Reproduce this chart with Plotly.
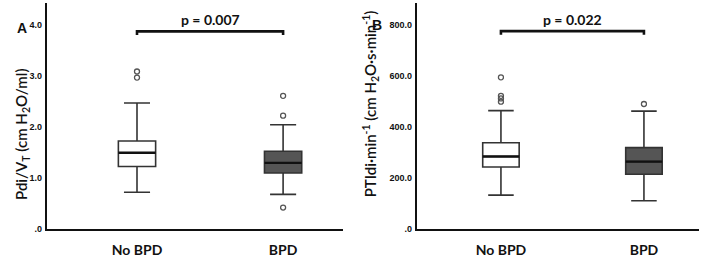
import plotly.graph_objects as go

groups = ["No BPD", "BPD"]

# Panel A: Pdi/VT
a_low = [0.71, 0.67]
a_q1 = [1.22, 1.09]
a_med = [1.49, 1.29]
a_q3 = [1.72, 1.52]
a_high = [2.47, 2.04]
a_out = [[3.09, 2.97], [2.61, 2.22, 0.41]]
a_bracket = 3.88
a_p = "p = 0.007"
a_ticks = [0, 1, 2, 3, 4]
a_ticktext = [".0", "1.0", "2.0", "3.0", "4.0"]

# Panel B: PTIdi·min-1
b_low = [131, 109]
b_q1 = [242, 213]
b_med = [283, 263]
b_q3 = [337, 318]
b_high = [464, 462]
b_out = [[595, 522, 512, 499], [490]]
b_bracket = 777
b_p = "p = 0.022"
b_ticks = [0, 200, 400, 600, 800]
b_ticktext = [".0", "200.0", "400.0", "600.0", "800.0"]

fills = ["#ffffff", "#555555"]
FONT = "Lato"

fig = go.Figure()

panels = [
    dict(low=a_low, q1=a_q1, med=a_med, q3=a_q3, high=a_high, out=a_out,
         br=a_bracket, p=a_p, tv=a_ticks, tt=a_ticktext, scale=1.0,
         xa="x", ya="y", xr=[-0.616, 1.41]),
    dict(low=b_low, q1=b_q1, med=b_med, q3=b_q3, high=b_high, out=b_out,
         br=b_bracket, p=b_p, tv=b_ticks, tt=b_ticktext, scale=200.0,
         xa="x2", ya="y2", xr=[-0.587, 1.385]),
]

bw = 0.255
for pn in panels:
    for i, g in enumerate(groups):
        fig.add_trace(go.Box(
            x=[i], q1=[pn["q1"][i]], median=[pn["med"][i]], q3=[pn["q3"][i]],
            lowerfence=[pn["low"][i]], upperfence=[pn["high"][i]],
            width=bw, whiskerwidth=0.7, fillcolor=fills[i],
            line=dict(color="#333333", width=1.6), boxpoints=False,
            xaxis=pn["xa"], yaxis=pn["ya"], showlegend=False, hoverinfo="skip"))
        # thicker median line
        fig.add_trace(go.Scatter(
            x=[i - bw / 2, i + bw / 2], y=[pn["med"][i]] * 2, mode="lines",
            line=dict(color="#111111", width=2.4),
            xaxis=pn["xa"], yaxis=pn["ya"], showlegend=False, hoverinfo="skip"))
        # outliers
        fig.add_trace(go.Scatter(
            x=[i] * len(pn["out"][i]), y=pn["out"][i], mode="markers",
            marker=dict(symbol="circle-open", size=5, color="#555555",
                        line=dict(width=1.3)),
            xaxis=pn["xa"], yaxis=pn["ya"], showlegend=False, hoverinfo="skip"))
    # significance bracket
    d = 0.07 * pn["scale"]
    fig.add_trace(go.Scatter(
        x=[0, 0, 1, 1], y=[pn["br"] - d, pn["br"], pn["br"], pn["br"] - d],
        mode="lines", line=dict(color="#111111", width=2.6),
        xaxis=pn["xa"], yaxis=pn["ya"], showlegend=False, hoverinfo="skip"))
    fig.add_annotation(x=0.5, y=pn["br"], xref=pn["xa"], yref=pn["ya"],
                       text="<b>" + pn["p"] + "</b>", showarrow=False,
                       yanchor="bottom", yshift=1,
                       font=dict(family=FONT, size=14, color="#111111"))

axis_common = dict(showline=True, linecolor="#111111", linewidth=2.2,
                   showgrid=False, zeroline=False, ticks="")

xlab = ["<b>" + g + "</b>" for g in groups]
ydom = [25 / 258, 255 / 258]
yfont = dict(family="Liberation Sans", size=9, color="#111111", weight="bold")
xfont = dict(family=FONT, size=14, color="#111111")
fig.update_layout(
    width=702, height=258, margin=dict(l=0, r=0, t=0, b=0),
    plot_bgcolor="white", paper_bgcolor="white",
    xaxis=dict(domain=[47 / 702, 343 / 702], range=panels[0]["xr"],
               tickvals=[0, 1], ticktext=xlab, anchor="y", ticklabelstandoff=7,
               tickfont=xfont, **axis_common),
    yaxis=dict(domain=ydom, range=[-0.02, 4.44], tickvals=a_ticks,
               ticktext=["<b>" + t + "</b>" for t in a_ticktext],
               anchor="x", tickfont=yfont, ticklabelstandoff=1, **axis_common),
    xaxis2=dict(domain=[417 / 702, 699 / 702], range=panels[1]["xr"],
                tickvals=[0, 1], ticktext=xlab, anchor="y2", ticklabelstandoff=7,
                tickfont=xfont, **axis_common),
    yaxis2=dict(domain=ydom, range=[-4, 888], tickvals=b_ticks,
                ticktext=["<b>" + t + "</b>" for t in b_ticktext],
                anchor="x2", tickfont=yfont, ticklabelstandoff=1, **axis_common),
)

fig.add_annotation(x=10 / 702, y=1 - 137 / 258, xref="paper", yref="paper", textangle=-90,
                   text="Pdi/V<sub>T</sub> (cm H<sub>2</sub>O/ml)", showarrow=False,
                   font=dict(family=FONT, size=15, color="#111111", weight=600))
fig.add_annotation(x=370 / 702, y=1 - 106 / 258, xref="paper", yref="paper", textangle=-90,
                   text="PTIdi·min<sup>-1</sup> (cm H<sub>2</sub>O·s·min<sup>-1</sup>)",
                   showarrow=False, font=dict(family=FONT, size=15, color="#111111", weight=600))
fig.add_annotation(x=15 / 702, y=1 - 18 / 258, xref="paper", yref="paper", text="<b>A</b>",
                   showarrow=False, font=dict(family="Liberation Sans", size=14, color="#111111"))
fig.add_annotation(x=377 / 702, y=1 - 15 / 258, xref="paper", yref="paper", text="<b>B</b>",
                   showarrow=False, font=dict(family="Liberation Sans", size=14, color="#111111"))

fig.write_html("out.html")
